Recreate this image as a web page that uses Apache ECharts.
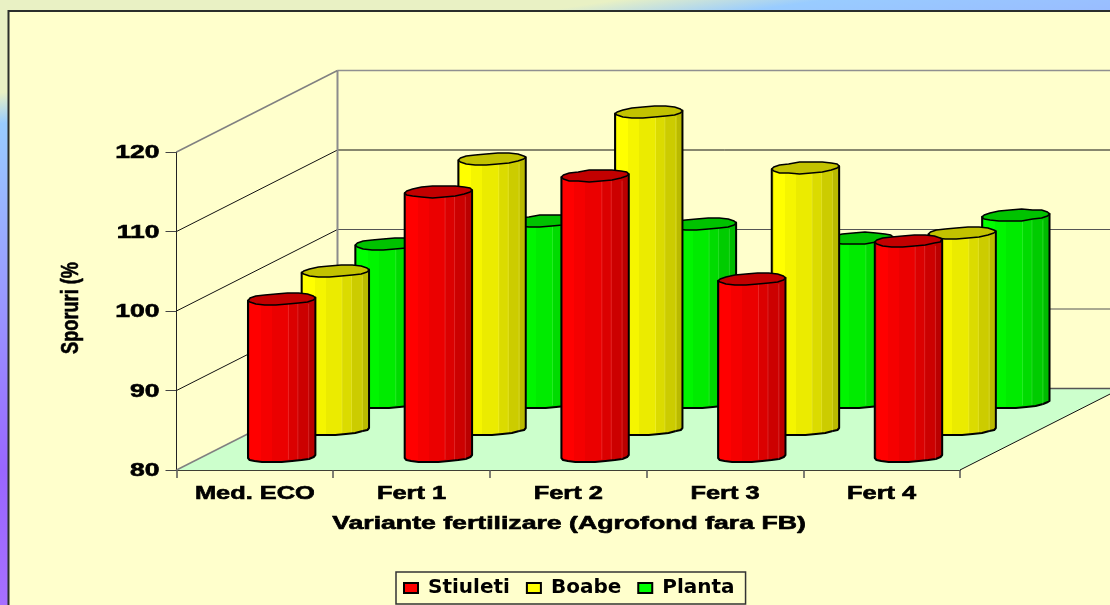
<!DOCTYPE html>
<html>
<head>
<meta charset="utf-8">
<style>html,body{margin:0;padding:0;background:#FFFFCC;overflow:hidden}#chart{width:1110px;height:605px}</style>
<script src="https://cdn.jsdelivr.net/npm/echarts@6/dist/echarts.min.js"></script>
</head>
<body>
<div id="chart"></div>
<script>
// Yield increases by fertilisation variant
const categories = ['Med. ECO', 'Fert 1', 'Fert 2', 'Fert 3', 'Fert 4'];
const stiuleti = [99.8, 113.3, 115.3, 102.3, 107.1];
const boabe = [99.9, 114.0, 119.9, 112.9, 104.7];
const planta = [99.9, 102.8, 102.4, 100.6, 103.5];
const valueTicks = [80, 90, 100, 110, 120];

// Oblique projection of the box: how far the back wall sits from the front plane
const DEPTH_X = 161;
const DEPTH_Y = -81.5;
const RADIUS_X = 33.7;
const RADIUS_Y = 5.7;
const SKEW_Y = -1.5;
const LABEL_FONT = 'bold 18px "Liberation Sans"';
const LABEL_STRETCH = 1.41;
const LABEL_INK = { fill: '#000', stroke: '#000', lineWidth: 0.6 };

function shade(rgb, f) {
  return 'rgb(' + rgb.map(c => Math.round(c * f)).join(',') + ')';
}

// Faceted shading across a cylinder, bright on the left and dark on the right
function bodyFill(rgb) {
  const bands = [[0, .04, .9], [.04, .2, 1], [.2, .36, .96], [.36, .6, .92], [.6, .74, .86], [.74, .9, .8], [.9, 1, .73]];
  const colorStops = [];
  bands.forEach(b => {
    colorStops.push({ offset: b[0], color: shade(rgb, b[2]) }, { offset: b[1], color: shade(rgb, b[2]) });
  });
  return { type: 'linear', x: 0, y: 0, x2: 1, y2: 0, colorStops };
}

function ring(cx, cy, from, to, steps) {
  const pts = [];
  for (let k = 0; k <= steps; k++) {
    const t = from + (to - from) * k / steps;
    pts.push([cx + RADIUS_X * Math.cos(t), Math.round(cy + RADIUS_Y * Math.sin(t) + SKEW_Y * Math.cos(t))]);
  }
  return pts;
}

function cylinderSeries(name, values, depth, rgb) {
  const fill = bodyFill(rgb);
  const stroke = { stroke: '#000', lineWidth: 2, lineJoin: 'round' };
  return {
    type: 'custom',
    name,
    coordinateSystem: 'cartesian2d',
    itemStyle: { color: shade(rgb, 1), borderColor: '#000', borderWidth: 1.5 },
    encode: { x: 0, y: 1 },
    data: categories.map((c, i) => [i, values[i]]),
    renderItem(params, api) {
      const top = api.coord([api.value(0), api.value(1)]);
      const base = api.coord([api.value(0), 80]);
      const dx = depth * DEPTH_X;
      const dy = depth * DEPTH_Y;
      const cx = top[0] + dx;
      const topY = top[1] + dy;
      const baseY = base[1] + dy;
      const lower = ring(cx, baseY, Math.PI, 0, 10);
      const body = [[cx - RADIUS_X, topY - SKEW_Y]].concat(lower, [[cx + RADIUS_X, topY + SKEW_Y]]);
      const children = [{
        type: 'polygon',
        shape: { points: body },
        style: Object.assign({ fill }, stroke)
      }];
      [.6, .74, .9].forEach(f => {
        const lx = cx - RADIUS_X + f * 2 * RADIUS_X;
        children.push({
          type: 'line',
          shape: { x1: lx, y1: topY + 5, x2: lx, y2: baseY + 3 },
          style: { stroke: 'rgba(255,255,255,0.14)', lineWidth: 1 }
        });
      });
      children.push({
        type: 'polygon',
        shape: { points: ring(cx, topY, 0, Math.PI * 2, 18) },
        style: Object.assign({ fill: shade(rgb, .76) }, stroke, { lineWidth: 1.6 })
      });
      return { type: 'group', children };
    }
  };
}

// Floor, side wall and back wall of the box with the gridlines running over them
const wallSeries = {
  type: 'custom',
  coordinateSystem: 'cartesian2d',
  silent: true,
  z: 1,
  encode: { x: 0, y: 1 },
  data: valueTicks.map(v => [0, v]),
  renderItem(params, api) {
    const v = api.value(1);
    const band = api.size([1, 0])[0];
    const p = api.coord([0, v]);
    const left = p[0] - band / 2;
    const right = left + band * categories.length;
    const y = p[1];
    const edge = v === 80 || v === 120;
    const back = v === 120 ? '#909090' : (v === 110 ? '#111' : '#555');
    const children = [];
    if (v === 80) {
      children.push({
        type: 'polygon',
        shape: { points: [[left, y], [right, y], [right + DEPTH_X, y + DEPTH_Y], [left + DEPTH_X, y + DEPTH_Y]] },
        style: { fill: '#CCFFCC' }
      });
      children.push({
        type: 'line',
        shape: { x1: right, y1: y, x2: right + DEPTH_X, y2: y + DEPTH_Y },
        style: { stroke: '#111', lineWidth: 1 }
      });
    }
    if (v === 120) {
      const floorY = api.coord([0, 80])[1] + DEPTH_Y;
      children.push({
        type: 'line',
        shape: { x1: left + DEPTH_X, y1: y + DEPTH_Y, x2: left + DEPTH_X, y2: floorY },
        style: { stroke: '#8C8C8C', lineWidth: 2 }
      });
    }
    children.push({
      type: 'line',
      shape: { x1: left, y1: y, x2: left + DEPTH_X, y2: y + DEPTH_Y },
      style: { stroke: edge ? '#808080' : '#111', lineWidth: edge ? 1.5 : 1 }
    });
    children.push({
      type: 'line',
      shape: { x1: left + DEPTH_X, y1: y + DEPTH_Y, x2: right + DEPTH_X, y2: y + DEPTH_Y },
      style: { stroke: back, lineWidth: v === 120 || v === 80 ? 1.5 : 1 }
    });
    return { type: 'group', children };
  }
};

// Tick labels are stretched sideways, which the built-in axis labels cannot do
const categoryLabels = {
  type: 'custom',
  coordinateSystem: 'cartesian2d',
  silent: true,
  encode: { x: 0, y: 1 },
  data: categories.map((c, i) => [i, 80]),
  renderItem(params, api) {
    const p = api.coord([api.value(0), 80]);
    return {
      type: 'text', x: p[0], y: p[1] + 24, scaleX: LABEL_STRETCH,
      style: Object.assign({ text: categories[params.dataIndex], font: LABEL_FONT, align: 'center', verticalAlign: 'middle' }, LABEL_INK)
    };
  }
};
const valueLabels = {
  type: 'custom',
  coordinateSystem: 'cartesian2d',
  silent: true,
  encode: { x: 0, y: 1 },
  data: valueTicks.map(v => [0, v]),
  renderItem(params, api) {
    const p = api.coord([0, api.value(1)]);
    return {
      type: 'text', x: p[0] - api.size([1, 0])[0] / 2 - 17, y: p[1] + 1.5, scaleX: LABEL_STRETCH + .06,
      style: Object.assign({ text: String(valueTicks[params.dataIndex]), font: LABEL_FONT, align: 'right', verticalAlign: 'middle' }, LABEL_INK)
    };
  }
};

const chart = echarts.init(document.getElementById('chart'), null, { renderer: 'canvas' });
chart.setOption({
  animation: false,
  backgroundColor: {
    type: 'linear', x: 0, y: 0, x2: 91, y2: 605, global: true,
    colorStops: [
      { offset: 0, color: '#E9F1C4' }, { offset: .15, color: '#E9F1C4' },
      { offset: .2, color: '#99CCFF' }, { offset: .76, color: '#9966FF' },
      { offset: 1, color: '#A870FF' }
    ]
  },
  graphic: [
    {
      type: 'rect', z: -10, silent: true,
      shape: { x: 8.5, y: 11, width: 1300, height: 800 },
      style: { fill: '#FFFFCC', stroke: '#2B2F2B', lineWidth: 2 }
    },
    {
      type: 'text', x: 569, y: 524, scaleX: 1.48, silent: true,
      style: Object.assign({ text: 'Variante fertilizare (Agrofond fara FB)', font: LABEL_FONT, align: 'center', verticalAlign: 'middle' }, LABEL_INK)
    },
    {
      type: 'text', x: 72, y: 308, rotation: Math.PI / 2, scaleX: .79, silent: true,
      style: Object.assign({ text: 'Sporuri (%', font: 'bold 23px "Liberation Sans"', align: 'center', verticalAlign: 'middle' }, LABEL_INK)
    }
  ],
  grid: { left: 176.5, right: 150, top: 152, bottom: 135, containLabel: false },
  xAxis: {
    type: 'category',
    data: categories,
    axisLine: { show: true, lineStyle: { color: '#000', width: 1.5 } },
    axisTick: { show: true, length: 8, lineStyle: { color: '#555', width: 1.5 } },
    axisLabel: { show: false },
    splitLine: { show: false }
  },
  yAxis: {
    type: 'value', min: 80, max: 120, interval: 10,
    axisLine: { show: true, lineStyle: { color: '#222', width: 1 } },
    axisTick: { show: true, length: 11, lineStyle: { color: '#444', width: 1 } },
    axisLabel: { show: false },
    splitLine: { show: false }
  },
  legend: {
    data: ['Stiuleti', 'Boabe', 'Planta'],
    left: 396, top: 572,
    orient: 'horizontal',
    icon: 'rect',
    itemWidth: 14, itemHeight: 10, itemGap: 16,
    padding: [6, 11, 6, 7],
    backgroundColor: '#FFFFCC',
    borderColor: '#333', borderWidth: 1.5,
    selectedMode: false,
    textStyle: { fontFamily: '"DejaVu Sans"', fontWeight: 'bold', fontSize: 20, color: '#000', padding: [0, 0, 0, 5] }
  },
  series: [
    wallSeries,
    cylinderSeries('Planta', planta, 5 / 6, [0, 255, 0]),
    cylinderSeries('Boabe', boabe, 1 / 2, [255, 255, 0]),
    cylinderSeries('Stiuleti', stiuleti, 1 / 6, [255, 0, 0]),
    categoryLabels,
    valueLabels
  ]
});
</script>
</body>
</html>
